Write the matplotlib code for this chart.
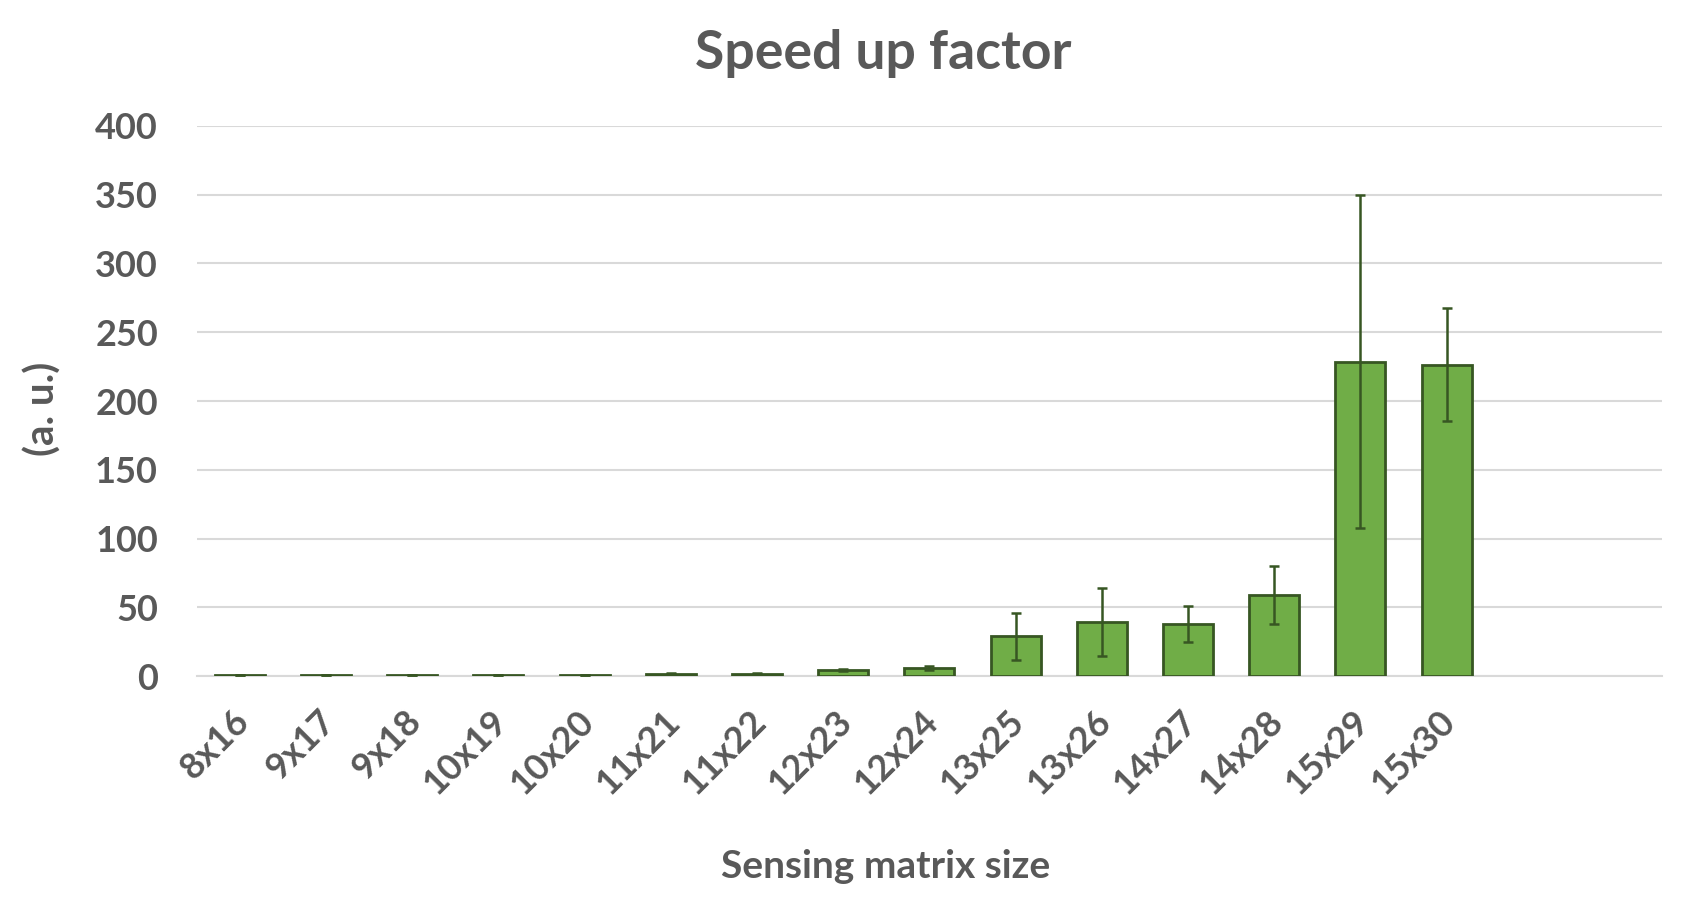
import matplotlib
matplotlib.use("Agg")
import matplotlib.pyplot as plt
import matplotlib.transforms as mtransforms
import numpy as np

categories = ["8x16", "9x17", "9x18", "10x19", "10x20", "11x21", "11x22",
              "12x23", "12x24", "13x25", "13x26", "14x27", "14x28", "15x29", "15x30"]
values = [1.0, 1.0, 1.0, 1.0, 1.0, 2.0, 2.0, 4.5, 6.0, 29.0, 39.5, 38.0, 59.0, 228.5, 226.5]
errors = [0.2, 0.2, 0.2, 0.2, 0.2, 0.3, 0.3, 1.0, 1.5, 17.0, 25.0, 13.0, 21.0, 121.0, 41.0]
n_slots = 17
yticks = [0, 50, 100, 150, 200, 250, 300, 350, 400]

plt.rcParams['font.family'] = ['Lato', 'DejaVu Sans']
text_color = "#595959"

fig = plt.figure(figsize=(16.86, 9.15), dpi=100)
ax = fig.add_axes([196.8 / 1686, 1 - 676.3 / 915, (1662 - 196.8) / 1686, (676.3 - 125.8) / 915])

x = np.arange(len(categories))
ax.bar(x, values, width=0.58, color="#70AD47", edgecolor="#375623", linewidth=2.0, zorder=3)
ax.errorbar(x, values, yerr=errors, fmt="none", ecolor="#375623", elinewidth=1.8,
            capsize=3.4, capthick=1.8, zorder=4)

ax.set_xlim(-0.5, n_slots - 0.5)
ax.set_ylim(0, 400)
ax.set_yticks(yticks)
ax.set_yticklabels([str(v) for v in yticks], fontsize=26, fontweight="bold", color=text_color)
ax.set_xticks(x)
ax.set_xticklabels(categories, rotation=45, ha="right", rotation_mode="anchor",
                   fontsize=26, fontweight="bold", color=text_color)
ax.tick_params(axis="both", length=0)
ax.tick_params(axis="y", pad=28)
ax.tick_params(axis="x", pad=20)
shift = mtransforms.ScaledTranslation(-8 / 100, 0, fig.dpi_scale_trans)
for lbl in ax.get_xticklabels():
    lbl.set_transform(lbl.get_transform() + shift)
ax.yaxis.grid(True, color="#D9D9D9", linewidth=1.5, zorder=0)
ax.set_axisbelow(True)
for s in ["top", "right", "left"]:
    ax.spines[s].set_visible(False)
ax.spines["bottom"].set_color("#D9D9D9")
ax.spines["bottom"].set_linewidth(1.5)

fig.text(883 / 1686, 1 - 54 / 915, "Speed up factor", ha="center", va="center",
         fontsize=38.5, fontweight="bold", color=text_color)
fig.text(886 / 1686, 1 - 866 / 915, "Sensing matrix size", ha="center", va="center",
         fontsize=28, fontweight="bold", color=text_color)
fig.text(43 / 1686, 1 - 409 / 915, "(a. u.)", ha="center", va="center", rotation=90,
         fontsize=29, fontweight="bold", color=text_color)

fig.savefig("out.png", dpi=100, facecolor="white")
